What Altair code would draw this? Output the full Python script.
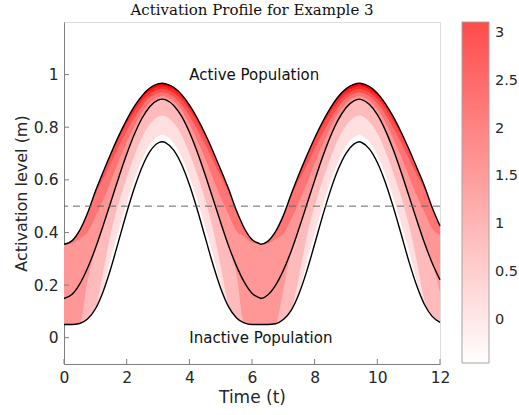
import altair as alt
import pandas as pd

# time samples (t)
t_vals = [0, 0.25, 0.5, 0.75, 1, 1.25, 1.5, 1.75, 2, 2.25, 2.5, 2.75, 3,
          3.1416, 3.25, 3.5, 3.75, 4, 4.25, 4.5, 4.75, 5, 5.25, 5.5, 5.75, 6,
          6.25, 6.2832, 6.5, 6.75, 7, 7.25, 7.5, 7.75, 8, 8.25, 8.5, 8.75, 9,
          9.25, 9.4248, 9.5, 9.75, 10, 10.25, 10.5, 10.75, 11, 11.25, 11.5, 11.75, 12]

# lower (inactive edge), middle and upper (active edge) black curves
lower = [0.050, 0.050, 0.054, 0.071, 0.109, 0.176, 0.266, 0.370, 0.475, 0.571, 0.651, 0.709, 0.740,
         0.745, 0.741, 0.713, 0.659, 0.582, 0.488, 0.384, 0.280, 0.188, 0.118, 0.076, 0.056, 0.050,
         0.050, 0.050, 0.050, 0.053, 0.069, 0.104, 0.167, 0.254, 0.356, 0.461, 0.558, 0.640, 0.701,
         0.736, 0.745, 0.742, 0.717, 0.666, 0.592, 0.500, 0.398, 0.293, 0.200, 0.127, 0.081, 0.058]
middle = [0.149, 0.164, 0.204, 0.264, 0.339, 0.426, 0.518, 0.610, 0.697, 0.774, 0.836, 0.880, 0.903,
          0.907, 0.904, 0.883, 0.842, 0.782, 0.707, 0.621, 0.530, 0.438, 0.350, 0.274, 0.212, 0.169,
          0.151, 0.149, 0.162, 0.199, 0.256, 0.329, 0.415, 0.506, 0.598, 0.686, 0.764, 0.828, 0.874,
          0.900, 0.907, 0.905, 0.886, 0.848, 0.790, 0.717, 0.633, 0.542, 0.450, 0.362, 0.284, 0.220]
upper = [0.355, 0.368, 0.408, 0.473, 0.556, 0.630, 0.701, 0.768, 0.828, 0.880, 0.921, 0.950, 0.965,
         0.967, 0.965, 0.952, 0.925, 0.885, 0.835, 0.776, 0.710, 0.639, 0.566, 0.484, 0.417, 0.373,
         0.357, 0.355, 0.366, 0.403, 0.464, 0.545, 0.621, 0.692, 0.759, 0.820, 0.873, 0.916, 0.946,
         0.963, 0.967, 0.966, 0.954, 0.929, 0.891, 0.842, 0.784, 0.719, 0.649, 0.578, 0.495, 0.425]

# contour band edges below the middle curve: share of (middle - lower) above the lower curve
edge0 = [0, 0, 0, 0, 0, 0.03, 0.153, 0.17, 0.17, 0.165, 0.16, 0.16, 0.155,
         0.155, 0.155, 0.16, 0.16, 0.165, 0.17, 0.17, 0.16, 0.05, 0, 0, 0, 0,
         0, 0, 0, 0, 0, 0, 0.01, 0.145, 0.17, 0.17, 0.165, 0.16, 0.16,
         0.155, 0.155, 0.155, 0.16, 0.16, 0.165, 0.17, 0.17, 0.17, 0.07, 0, 0, 0]
edge1 = [0, 0, 0, 0, 0, 0.3, 0.53, 0.6, 0.6, 0.6, 0.61, 0.61, 0.615,
         0.615, 0.615, 0.61, 0.61, 0.6, 0.6, 0.6, 0.54, 0.34, 0.03, 0, 0, 0,
         0, 0, 0, 0, 0, 0, 0.27, 0.52, 0.6, 0.6, 0.6, 0.61, 0.61,
         0.615, 0.615, 0.615, 0.61, 0.61, 0.6, 0.6, 0.6, 0.56, 0.39, 0.07, 0, 0]
edge2 = [0, 0, 0, 0.75, 1, 1, 1, 1, 1, 1, 1, 1, 1,
         1, 1, 1, 1, 1, 1, 1, 1, 1, 1, 0.85, 0, 0,
         0, 0, 0, 0, 0.6, 1, 1, 1, 1, 1, 1, 1, 1,
         1, 1, 1, 1, 1, 1, 1, 1, 1, 1, 1, 1, 0.7]
# contour band edges above the middle curve: share of (upper - middle) below the upper curve
edge3 = [0, 0.05, 0.15, 0.35, 0.45, 0.52, 0.57, 0.6, 0.65, 0.69, 0.73, 0.77, 0.8,
         0.8, 0.8, 0.77, 0.73, 0.69, 0.65, 0.6, 0.57, 0.52, 0.45, 0.37, 0.16, 0.06,
         0, 0, 0.04, 0.14, 0.33, 0.44, 0.51, 0.56, 0.6, 0.64, 0.68, 0.72, 0.76,
         0.8, 0.8, 0.8, 0.78, 0.74, 0.70, 0.66, 0.61, 0.58, 0.53, 0.46, 0.38, 0.17]
edge4 = [0, 0, 0, 0, 0.05, 0.12, 0.2, 0.25, 0.34, 0.4, 0.46, 0.52, 0.57,
         0.57, 0.57, 0.52, 0.46, 0.4, 0.34, 0.25, 0.2, 0.12, 0.05, 0, 0, 0,
         0, 0, 0, 0, 0, 0.04, 0.11, 0.19, 0.25, 0.33, 0.39, 0.45, 0.51,
         0.57, 0.57, 0.57, 0.53, 0.47, 0.41, 0.35, 0.27, 0.21, 0.14, 0.06, 0, 0]
edge5 = [0, 0, 0, 0, 0, 0, 0.02, 0.06, 0.12, 0.18, 0.25, 0.31, 0.36,
         0.36, 0.36, 0.31, 0.25, 0.18, 0.12, 0.06, 0.02, 0, 0, 0, 0, 0,
         0, 0, 0, 0, 0, 0, 0, 0.02, 0.05, 0.11, 0.17, 0.24, 0.30,
         0.36, 0.36, 0.36, 0.32, 0.26, 0.19, 0.13, 0.07, 0.03, 0, 0, 0, 0]
edge6 = [0, 0, 0, 0, 0, 0, 0, 0, 0.02, 0.05, 0.09, 0.14, 0.19,
         0.19, 0.19, 0.14, 0.09, 0.05, 0.02, 0, 0, 0, 0, 0, 0, 0,
         0, 0, 0, 0, 0, 0, 0, 0, 0, 0.01, 0.05, 0.08, 0.13,
         0.19, 0.19, 0.19, 0.15, 0.10, 0.06, 0.03, 0, 0, 0, 0, 0, 0]

# contour levels of each band and colorbar range
band_levels = [0, 0.5, 1, 1.5, 2, 2.5, 3]
cbar_range = [-0.45, 3.115]
cbar_ticks = [0, 0.5, 1, 1.5, 2, 2.5, 3]

x_ticks = [0, 2, 4, 6, 8, 10, 12]
y_ticks = [0, 0.2, 0.4, 0.6, 0.8, 1]
threshold = [0.5]

label_text = ["Active Population", "Inactive Population"]
label_t = [4.0, 4.0]
label_m = [1.0, 0.0]


def level_color(v):
    f = (v - cbar_range[0]) / (cbar_range[1] - cbar_range[0])
    g = int(round(255 * (1 - f)))
    return "#ff%02x%02x" % (g, g)


df = pd.DataFrame({"t": t_vals, "L": lower, "M": middle, "U": upper})
for k, e in enumerate([edge0, edge1, edge2]):
    df["B%d" % k] = df["L"] + pd.Series(e) * (df["M"] - df["L"])
for k, e in zip([3, 4, 5, 6], [edge3, edge4, edge5, edge6]):
    df["B%d" % k] = df["U"] - pd.Series(e) * (df["U"] - df["M"])

FONT = "DejaVu Sans"
TXT = "#262626"
AX = "#808080"

xscale = alt.Scale(domain=[0, 12], nice=False, zero=False)
yscale = alt.Scale(domain=[-0.1, 1.2], nice=False, zero=False)
xaxis = alt.Axis(values=x_ticks, title="Time (t)", ticks=False, grid=False,
                 domainColor=AX, domainWidth=1, labelFont=FONT, labelFontSize=15.5,
                 labelColor=TXT, labelPadding=6, titleFont=FONT, titleFontSize=17,
                 titleColor=TXT, titleFontWeight="normal", titlePadding=4, labelFlush=False)
yaxis = alt.Axis(values=y_ticks, title="Activation level (m)", format="~g", ticks=False,
                 grid=False, domainColor=AX, domainWidth=1, labelFont=FONT,
                 labelFontSize=15.5, labelColor=TXT, labelPadding=6, titleFont=FONT,
                 titleFontSize=16, titleColor=TXT, titleFontWeight="normal",
                 titlePadding=4, labelFlush=False)

X = alt.X("t:Q", scale=xscale, axis=xaxis)

layers = []
for k, lv in enumerate(band_levels):
    layers.append(
        alt.Chart(df).mark_area(color=level_color(lv), interpolate="monotone").encode(
            x=X,
            y=alt.Y("B%d:Q" % k, scale=yscale, axis=yaxis),
            y2=alt.Y2("U"),
        )
    )

curves = alt.Chart(df).transform_fold(["L", "M", "U"], as_=["curve", "m"]).mark_line(
    color="black", strokeWidth=1.4, interpolate="monotone"
).encode(x=X, y=alt.Y("m:Q", scale=yscale, axis=yaxis), detail="curve:N")

dash = alt.Chart(pd.DataFrame({"m": threshold})).mark_rule(
    color="#666666", strokeWidth=1, strokeDash=[7, 5]
).encode(y=alt.Y("m:Q", scale=yscale, axis=yaxis))

labels = alt.Chart(pd.DataFrame({"t": label_t, "m": label_m, "s": label_text})).mark_text(
    align="left", baseline="middle", font=FONT, fontSize=15, color="#111111"
).encode(x=X, y=alt.Y("m:Q", scale=yscale, axis=yaxis), text="s:N")

xt = alt.Chart(pd.DataFrame({"v": x_ticks})).mark_rule(color=AX, strokeWidth=1).encode(
    x=alt.X("v:Q", scale=xscale, axis=xaxis), y=alt.value(342), y2=alt.value(337)
)
yt = alt.Chart(pd.DataFrame({"v": y_ticks})).mark_rule(color=AX, strokeWidth=1).encode(
    y=alt.Y("v:Q", scale=yscale, axis=yaxis), x=alt.value(0), x2=alt.value(5)
)

cbar = alt.Chart(pd.DataFrame({"v": cbar_range})).mark_point(size=0, filled=True).encode(
    x=alt.value(0), y=alt.value(0),
    color=alt.Color(
        "v:Q",
        scale=alt.Scale(domain=cbar_range, range=["#ffffff", "#ff0000"], interpolate="rgb"),
        legend=alt.Legend(
            title=None, orient="right", offset=19, direction="vertical",
            gradientLength=341, gradientThickness=27, values=cbar_ticks, format="~g",
            labelOverlap=False, labelFont=FONT, labelFontSize=14.5, labelColor=TXT,
            labelOffset=6, gradientStrokeColor="#7f7f7f", gradientStrokeWidth=1,
            padding=0,
        ),
    ),
)

chart = alt.layer(*layers, curves, dash, labels, xt, yt, cbar).properties(
    width=376,
    height=342,
    padding={"left": 64, "top": 22, "right": 79, "bottom": 51},
    autosize=alt.AutoSizeParams(type="none"),
    title=alt.TitleParams(
        "Activation Profile for Example 3", font="DejaVu Serif", fontSize=15,
        fontWeight="normal", anchor="middle", color="#111111", offset=4,
    ),
).configure_view(strokeWidth=0).configure(background="white")

chart.save("out.html", embed_options={"renderer": "svg", "actions": False})
